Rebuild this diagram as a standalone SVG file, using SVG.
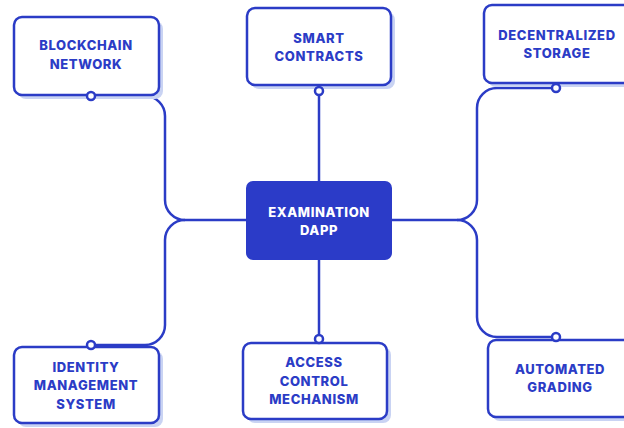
<svg xmlns="http://www.w3.org/2000/svg" width="624" height="428" viewBox="0 0 624 428">
<style>
.sh{fill:#c9d3f3}
.box{fill:#fff;stroke:#2b3cc6;stroke-width:2.5}
.ctr{fill:#2b3bc8}
.t{font-family:Inter,"Liberation Sans",sans-serif;font-weight:800;font-size:13px;fill:#2b3cc6;text-anchor:middle;letter-spacing:0.6px}
.tw{fill:#fff}
.ln{fill:none;stroke:#2b3cc6;stroke-width:2.5}
.dot{fill:#fff;stroke:#2b3cc6;stroke-width:2.5}
</style>
<rect width="624" height="428" fill="#fff"/>
<g id="connectors">
<path class="ln" d="M91,96 H145 A20,20 0 0 1 165,116 V200 A20,20 0 0 0 185,220 H246"/>
<path class="ln" d="M91,345 H145 A20,20 0 0 0 165,325 V240 A20,20 0 0 1 185,220"/>
<path class="ln" d="M556,88 H497 A20,20 0 0 0 477,108 V200 A20,20 0 0 1 457,220 H392"/>
<path class="ln" d="M556,337 H497 A20,20 0 0 1 477,317 V240 A20,20 0 0 0 457,220"/>
<path class="ln" d="M319,91 V181"/>
<path class="ln" d="M319,339 V260"/>
</g>
<g id="blockchain">
<rect class="sh" x="18" y="21" width="145" height="78" rx="8"/>
<rect class="box" x="14" y="17" width="145" height="78" rx="8"/>
<text class="t" x="86" y="50">BLOCKCHAIN</text>
<text class="t" x="86" y="69">NETWORK</text>
</g>
<g id="smart">
<rect class="sh" x="251" y="12" width="144" height="77" rx="8"/>
<rect class="box" x="247" y="8" width="144" height="77" rx="8"/>
<text class="t" x="319" y="43">SMART</text>
<text class="t" x="319" y="61">CONTRACTS</text>
</g>
<g id="storage">
<rect class="sh" x="488" y="9" width="150" height="78" rx="8"/>
<rect class="box" x="484" y="5" width="150" height="78" rx="8"/>
<text class="t" x="557" y="40">DECENTRALIZED</text>
<text class="t" x="557" y="58">STORAGE</text>
</g>
<g id="center">
<rect class="ctr" x="246" y="181" width="146" height="79" rx="7"/>
<text class="t tw" x="319" y="217">EXAMINATION</text>
<text class="t tw" x="319" y="235">DAPP</text>
</g>
<g id="identity">
<rect class="sh" x="18" y="351" width="145" height="76" rx="8"/>
<rect class="box" x="14" y="347" width="145" height="76" rx="8"/>
<text class="t" x="86" y="372">IDENTITY</text>
<text class="t" x="86" y="390">MANAGEMENT</text>
<text class="t" x="86" y="409">SYSTEM</text>
</g>
<g id="access">
<rect class="sh" x="247" y="347" width="144" height="76" rx="8"/>
<rect class="box" x="243" y="343" width="144" height="76" rx="8"/>
<text class="t" x="314" y="367">ACCESS</text>
<text class="t" x="314" y="386">CONTROL</text>
<text class="t" x="314" y="404">MECHANISM</text>
</g>
<g id="grading">
<rect class="sh" x="492" y="344" width="150" height="77" rx="8"/>
<rect class="box" x="488" y="340" width="150" height="77" rx="8"/>
<text class="t" x="560" y="374">AUTOMATED</text>
<text class="t" x="560" y="392">GRADING</text>
</g>
<g id="dots">
<circle class="dot" cx="91" cy="96" r="4"/>
<circle class="dot" cx="319" cy="91" r="4"/>
<circle class="dot" cx="556" cy="88" r="4"/>
<circle class="dot" cx="91" cy="345" r="4"/>
<circle class="dot" cx="319" cy="339" r="4"/>
<circle class="dot" cx="556" cy="337" r="4"/>
</g>
</svg>
